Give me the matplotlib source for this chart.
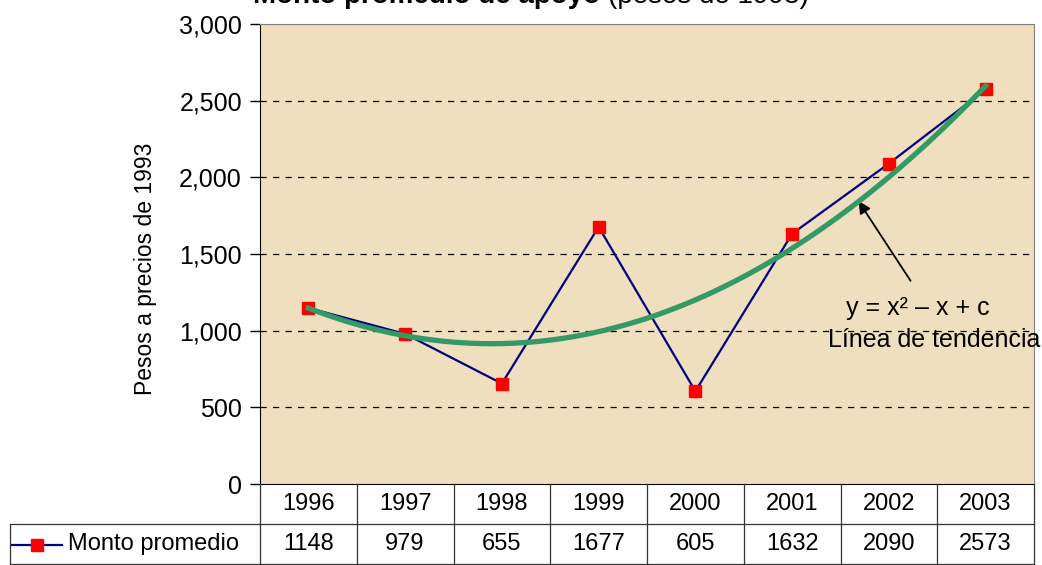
import numpy as np
import matplotlib.pyplot as plt
from matplotlib.lines import Line2D

plt.rcParams['font.family'] = ['Liberation Sans', 'DejaVu Sans']

# data
years = ['1996', '1997', '1998', '1999', '2000', '2001', '2002', '2003']
monto = [1148, 979, 655, 1677, 605, 1632, 2090, 2573]
yticks = [0, 500, 1000, 1500, 2000, 2500, 3000]

x = np.arange(len(years))
# quadratic trend line fitted to the data
coef = np.polyfit(x, monto, 2)
xs = np.linspace(0, len(years) - 1, 200)
trend = np.polyval(coef, xs)

W, H = 1042, 565
fig = plt.figure(figsize=(W / 100, H / 100), dpi=100)

# axes position in pixels
L, R, T, B = 260, 1034, 24, 484
ax = fig.add_axes([L / W, 1 - B / H, (R - L) / W, (B - T) / H])
ax.set_facecolor('#EFDFBF')

ax.plot(x, monto, color='#000080', lw=1.6, marker='s', ms=8.5,
        mfc='#FF0000', mec='#FF0000', zorder=3)
ax.plot(xs, trend, color='#339966', lw=3.8, zorder=4)

ax.set_xlim(-0.5, len(years) - 0.5)
ax.set_ylim(0, 3000)
ax.set_yticks(yticks)
ax.set_yticklabels([f'{v:,}' for v in yticks], fontsize=18)
ax.set_xticks([])
ax.tick_params(axis='y', direction='out', length=7, width=1, pad=6)
for v in yticks[1:-1]:
    ax.axhline(v, color='black', lw=0.9, ls=(0, (5, 5)), zorder=1)

for s in ['top', 'right']:
    ax.spines[s].set_color('#808080')
ax.spines['left'].set_color('black')
ax.spines['bottom'].set_color('black')

ax.set_ylabel('Pesos a precios de 1993', fontsize=16.5)
ax.yaxis.set_label_coords((157 - L) / (R - L), (B - 269) / (B - T))

# annotation
ax.annotate('', xy=(5.67, 1860), xytext=(6.24, 1310),
            arrowprops=dict(arrowstyle='-|>', color='black', lw=1.3,
                            mutation_scale=18))
ax.text(6.30, 1150, 'y = x\u00b2 \u2013 x + c', fontsize=18,
        ha='center', va='center')
ax.text(5.37, 940, 'L\u00ednea de tendencia', fontsize=18,
        ha='left', va='center', clip_on=False)

# title (cut off at the top, as in the source)
fig.text(600 / W, 1 - 3 / H, 'Monto promedio de apoyo', fontsize=20,
         fontweight='bold', ha='right', va='baseline')
fig.text(608 / W, 1 - 3 / H, '(pesos de 1993)', fontsize=20,
         ha='left', va='baseline')

# data table below the axes
def fx(px):
    return px / W

def fy(py):
    return 1 - py / H

colw = (R - L) / len(years)
row1, row2 = 524, 564
lc = '#333333'
for i in range(len(years) + 1):
    xp = L + i * colw
    fig.add_artist(Line2D([fx(xp), fx(xp)], [fy(B), fy(row2)], color=lc, lw=0.9))
fig.add_artist(Line2D([fx(10), fx(R)], [fy(row1), fy(row1)], color=lc, lw=0.9))
fig.add_artist(Line2D([fx(10), fx(R)], [fy(row2), fy(row2)], color=lc, lw=0.9))
fig.add_artist(Line2D([fx(10), fx(10)], [fy(row1), fy(row2)], color=lc, lw=0.9))

for i, (yr, v) in enumerate(zip(years, monto)):
    cx = L + (i + 0.5) * colw
    fig.text(fx(cx), fy((B + row1) / 2), yr, fontsize=17, ha='center', va='center')
    fig.text(fx(cx), fy((row1 + row2) / 2), str(v), fontsize=17, ha='center', va='center')

# legend key inside the row label cell
ky = fy((row1 + row2) / 2 + 1)
fig.add_artist(Line2D([fx(12), fx(62)], [ky, ky], color='#000080', lw=1.6))
fig.add_artist(Line2D([fx(37)], [ky], marker='s', ms=8.5, mfc='#FF0000',
                      mec='#FF0000', color='none'))
fig.text(fx(68), fy((row1 + row2) / 2), 'Monto promedio', fontsize=17,
         ha='left', va='center')

fig.savefig('out.png', dpi=100)
